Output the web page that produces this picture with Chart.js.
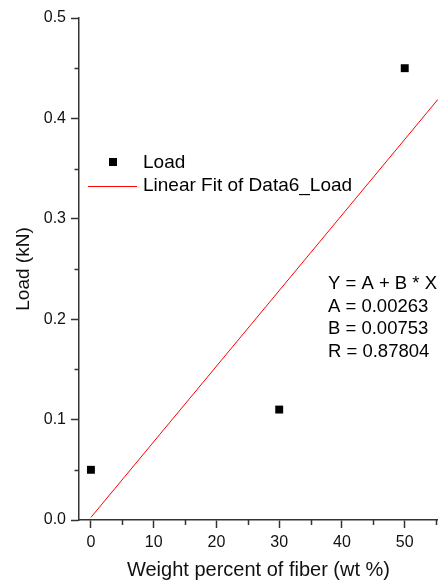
<html>
	<head>
		<title>Load vs fiber</title>
		<style>
			body { margin: 0; padding: 0; background: #fff; }
			#wrap { position: relative; width: 438px; height: 585px; }
		</style>
	</head>
	<body>
		<div id="wrap"><canvas id="myChart"></canvas></div>
		<script src="https://cdn.jsdelivr.net/npm/chart.js@4/dist/chart.umd.js"></script>
		<script>
			// measured points
			const fiberWt = [0, 30, 50];
			const loadKN = [0.05, 0.11, 0.45];
			// fit line end points
			const fitX = [0, 55.3];
			const fitY = [0.0026, 0.419];
			const fitText = ["Y = A + B * X", "A = 0.00263", "B = 0.00753", "R = 0.87804"];
			const xTicks = [0, 10, 20, 30, 40, 50];
			const xMinor = [5, 15, 25, 35, 45, 55];
			const yTicks = [0, 0.1, 0.2, 0.3, 0.4, 0.5];
			const yMinor = [0.05, 0.15, 0.25, 0.35, 0.45];

			const FONT = "'Liberation Sans', Arial, sans-serif";
			const axisCol = "#333";

			const extras = {
				id: "extras",
				afterDraw(chart) {
					const c = chart.ctx;
					const xs = chart.scales.x, ys = chart.scales.y;
					c.save();
					// minor ticks
					c.strokeStyle = axisCol;
					c.lineWidth = 1.5;
					c.beginPath();
					xMinor.forEach(v => {
						const px = Math.round(xs.getPixelForValue(v)) + 0.5;
						if (px > xs.right) return;
						c.moveTo(px, xs.top);
						c.lineTo(px, xs.top + 5);
					});
					yMinor.forEach(v => {
						const py = Math.round(ys.getPixelForValue(v)) + 0.5;
						c.moveTo(ys.right, py);
						c.lineTo(ys.right - 4.5, py);
					});
					c.stroke();

					// legend
					c.fillStyle = "#000";
					c.fillRect(109, 158, 8, 8);
					c.strokeStyle = "red";
					c.lineWidth = 1;
					c.beginPath();
					c.moveTo(88, 186.5);
					c.lineTo(137, 186.5);
					c.stroke();
					c.font = "19px " + FONT;
					c.textBaseline = "middle";
					c.textAlign = "left";
					c.fillText("Load", 143, 163);
					c.fillText("Linear Fit of Data6_Load", 143, 186);

					// fit parameters
					c.font = "18.5px " + FONT;
					fitText.forEach((t, i) => c.fillText(t, 328, 284 + i * 22.5));
					c.restore();
				}
			};

			new Chart(document.getElementById("myChart"), {
				type: "scatter",
				data: {
					datasets: [
						{
							label: "Load",
							data: fiberWt.map((x, i) => ({ x: x, y: loadKN[i] })),
							pointStyle: "rect",
							pointRadius: 5.6,
							pointBorderWidth: 0,
							backgroundColor: "#000",
							borderColor: "#000",
						},
						{
							label: "Linear Fit of Data6_Load",
							data: fitX.map((x, i) => ({ x: x, y: fitY[i] })),
							showLine: true,
							pointRadius: 0,
							borderColor: "red",
							borderWidth: 1,
						},
					],
				},
				options: {
					responsive: true,
					maintainAspectRatio: false,
					animation: false,
					events: [],
					// points are inside the axes, no room needed for them at the edges
					layout: { autoPadding: false, padding: { top: 18, left: 0, right: 0, bottom: 0 } },
					plugins: { legend: { display: false }, tooltip: { enabled: false } },
					scales: {
						x: {
							type: "linear",
							min: -1.9,
							max: 55.3,
							afterBuildTicks: s => { s.ticks = xTicks.map(v => ({ value: v })); },
							afterFit: s => { s.height = 65; },
							border: { display: true, color: axisCol, width: 1.5 },
							grid: { drawOnChartArea: false, tickLength: 8, tickColor: axisCol, tickWidth: 1.5 },
							ticks: { color: "#111", padding: 5, font: { family: FONT, size: 16 }, maxRotation: 0 },
							title: { display: true, text: "Weight percent of fiber (wt %)", color: "#111",
								font: { family: FONT, size: 20 }, padding: { top: 0, bottom: 3 } },
						},
						y: {
							type: "linear",
							min: 0,
							max: 0.5,
							afterBuildTicks: s => { s.ticks = yTicks.map(v => ({ value: v })); },
							afterFit: s => { s.width = 79; },
							border: { display: true, color: axisCol, width: 1.5 },
							grid: { drawOnChartArea: false, tickLength: 8, tickColor: axisCol, tickWidth: 1.5 },
							ticks: { color: "#111", padding: 5, font: { family: FONT, size: 16 },
								callback: v => v.toFixed(1) },
							title: { display: true, text: "Load (kN)", color: "#111",
								font: { family: FONT, size: 19 }, padding: { top: 12, bottom: 0 } },
						},
					},
				},
				plugins: [extras],
			});
		</script>
	</body>
</html>
